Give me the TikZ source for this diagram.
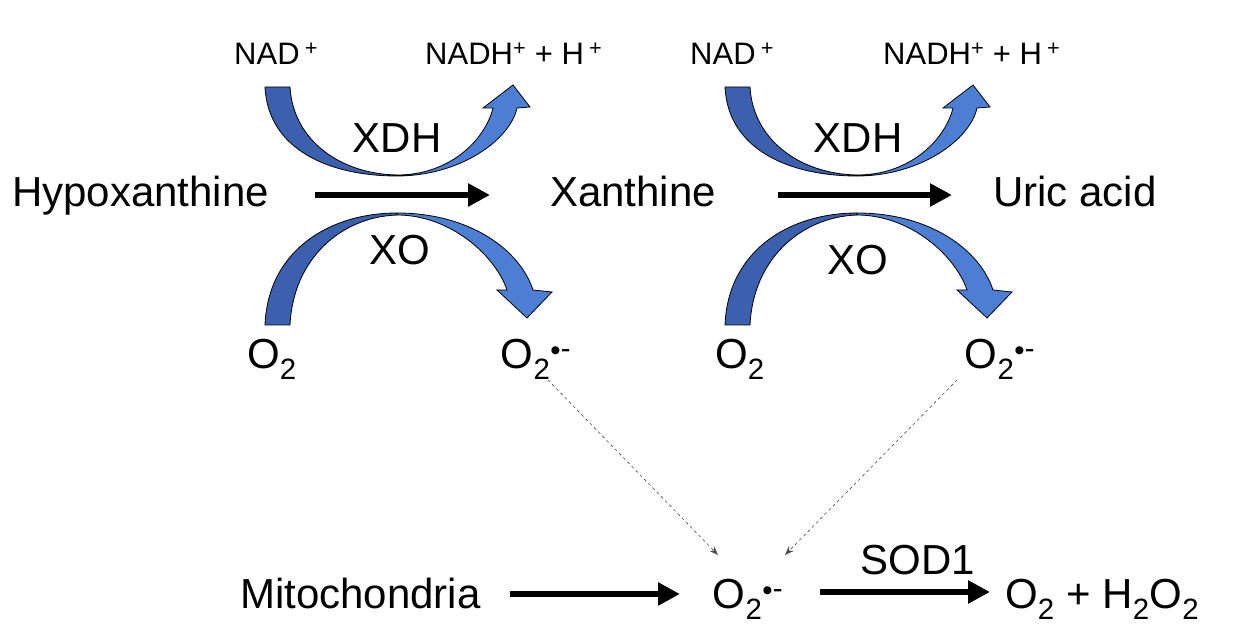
\documentclass[tikz,border=0pt]{standalone}
\usepackage{fontspec}
\setmainfont{Liberation Sans}
\usetikzlibrary{arrows.meta}
\definecolor{dk}{HTML}{3A60AE}
\definecolor{lt}{HTML}{4C7ED4}
\newcommand{\Osup}{O\textsubscript{2}\textsuperscript{\raisebox{-0.1ex}{•}-}}
\newcommand{\grp}[1]{%
\begin{scope}[xshift=#1]
\path[blk,fill=dk] (265,87) -- (290,87) .. controls (293,140) and (340,174) .. (397,175) -- (397,176) .. controls (330,176) and (268,150) .. (265,87) -- cycle;
\path[blk,fill=lt] (397,176) .. controls (460,176) and (510,140) .. (517,108) -- (530,107) -- (513,85) -- (483,108) -- (493,108) .. controls (485,140) and (450,175) .. (397,175) -- cycle;
\path[blk,fill=dk] (265,325) .. controls (268,250) and (330,213) .. (397,213) -- (397,215) .. controls (340,217) and (293,260) .. (290,325) -- cycle;
\path[blk,fill=lt] (397,213) .. controls (470,213) and (520,250) .. (533,290) -- (552,292) -- (527,318) -- (497,290) -- (507,290) .. controls (495,255) and (450,215) .. (397,215) -- cycle;
\end{scope}}
\begin{document}
\begin{tikzpicture}[x=1pt,y=-1pt,
  big/.style={font=\fontsize{42}{46}\selectfont, inner sep=0pt},
  sm/.style={font=\fontsize{31}{35}\selectfont, inner sep=0pt},
  blk/.style={draw=black, line width=0.8pt},
  main/.style={-{Triangle[length=22pt,width=22pt]}, line width=6pt},
  dsh/.style={-{Stealth[length=9pt]}, dashed, line width=0.6pt, draw=black!70}]
\useasboundingbox (0,0) rectangle (1245,644);
\grp{0}
\grp{460}
\node[big, anchor=base west] (hyp) at (12,207) {Hypoxanthine};
\node[big, anchor=base west] (xan) at (550,207) {Xanthine};
\node[big, anchor=base west] (uric) at (993,207) {Uric acid};
\node[sm, anchor=base west] (nad1) at (234,65) {NAD\,\textsuperscript{+}};
\node[sm, anchor=base west] (nadh1) at (425,65) {NADH\textsuperscript{+} + H\,\textsuperscript{+}};
\node[sm, anchor=base west] (nad2) at (690,65) {NAD\,\textsuperscript{+}};
\node[sm, anchor=base west] (nadh2) at (883,65) {NADH\textsuperscript{+} + H\,\textsuperscript{+}};
\node[big, anchor=base] (xdh1) at (397,153) {XDH};
\node[big, anchor=base] (xo1) at (400,265) {XO};
\node[big, anchor=base] (xdh2) at (858,153) {XDH};
\node[big, anchor=base] (xo2) at (858,275) {XO};
\node[big, anchor=base] (o2a) at (272,368) {O\textsubscript{2}};
\node[big, anchor=base] (sa) at (536,368) {\Osup};
\node[big, anchor=base] (o2b) at (740,368) {O\textsubscript{2}};
\node[big, anchor=base] (sb) at (1000,368) {\Osup};
\node[big, anchor=base west] (mito) at (240,608) {Mitochondria};
\node[big, anchor=base] (sc) at (748,608) {\Osup};
\node[big, anchor=base] (sod) at (918,574) {SOD1};
\node[big, anchor=base west] (prod) at (1005,608) {O\textsubscript{2} + H\textsubscript{2}O\textsubscript{2}};
\coordinate (a1) at (315,195); \coordinate (a2) at (490,195);
\coordinate (b1) at (778,195); \coordinate (b2) at (952,195);
\coordinate (m1) at (510,594); \coordinate (m2) at (680,594);
\coordinate (s1) at (820,592); \coordinate (s2) at (990,592);
\coordinate (d1) at (548,380); \coordinate (d2) at (718,555);
\coordinate (e1) at (957,380); \coordinate (e2) at (785,555);
\draw[main] (a1) -- (a2);
\draw[main] (b1) -- (b2);
\draw[main] (m1) -- (m2);
\draw[main] (s1) -- (s2);
\draw[dsh] (d1) -- (d2);
\draw[dsh] (e1) -- (e2);
\end{tikzpicture}
\end{document}
